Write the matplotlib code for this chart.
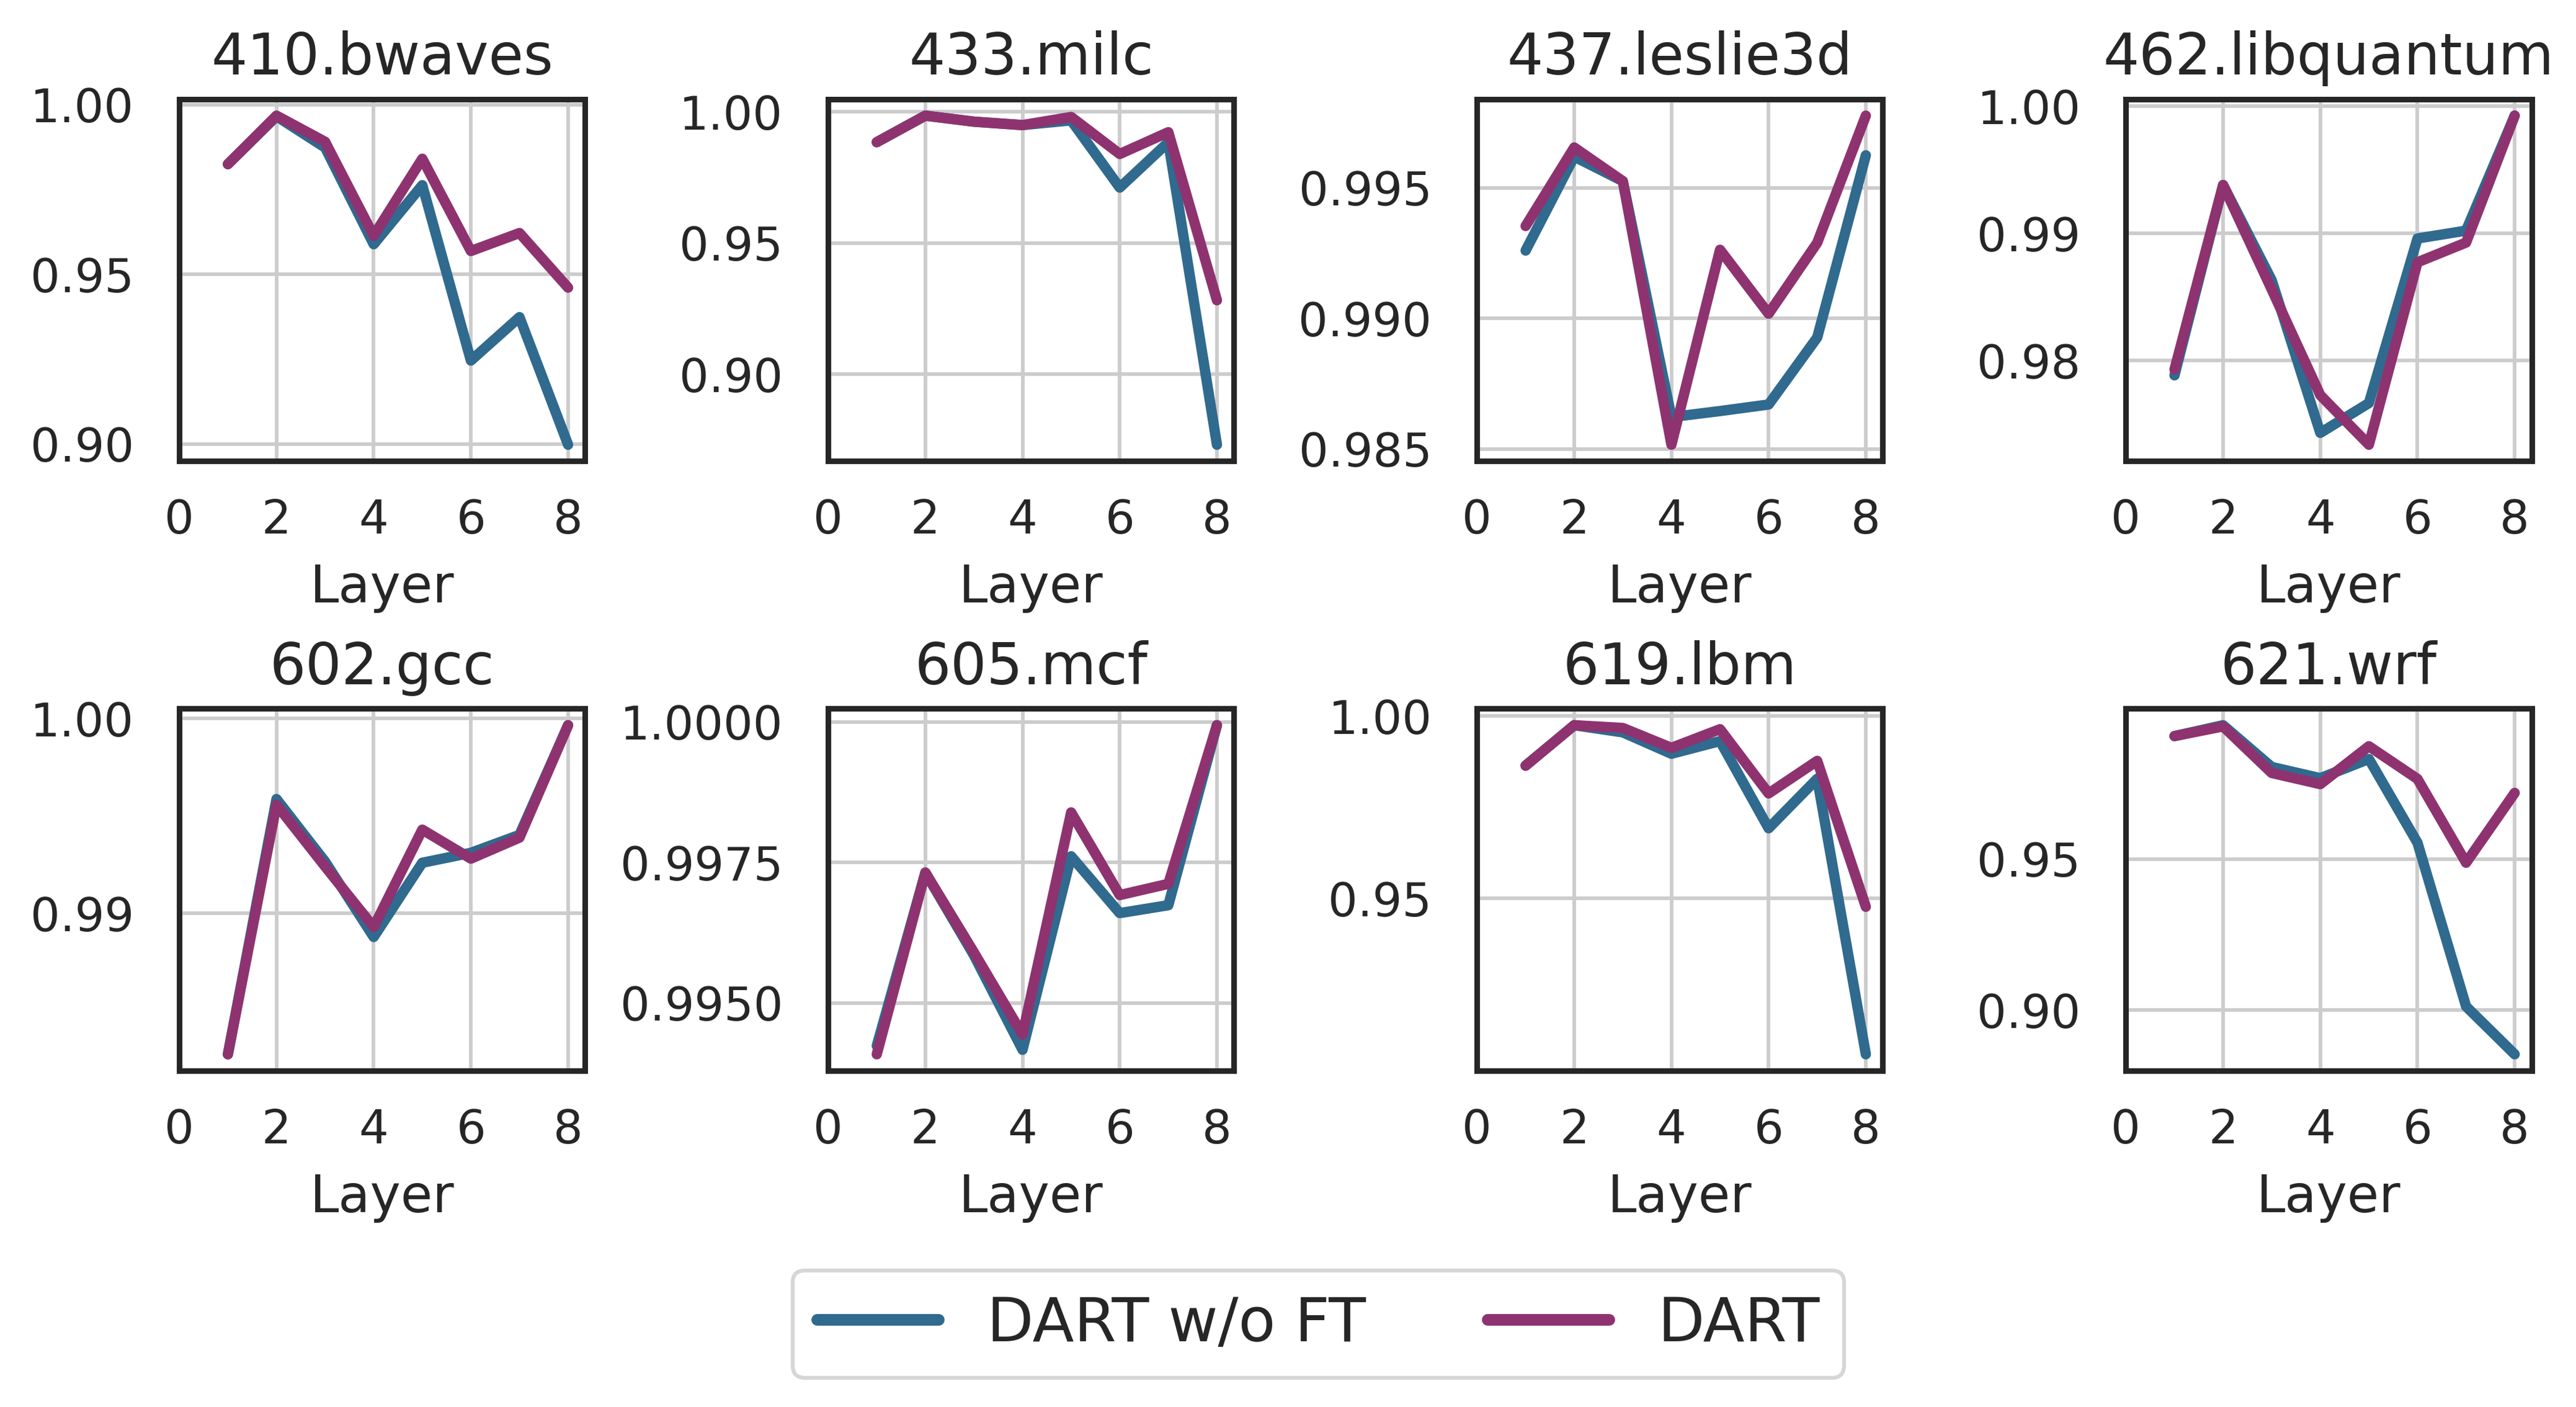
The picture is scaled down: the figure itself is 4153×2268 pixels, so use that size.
import matplotlib
matplotlib.use("Agg")
import matplotlib.pyplot as plt
from matplotlib.lines import Line2D

# per-layer similarity
layers = [1, 2, 3, 4, 5, 6, 7, 8]
benchmarks = ["410.bwaves", "433.milc", "437.leslie3d", "462.libquantum",
              "602.gcc", "605.mcf", "619.lbm", "621.wrf"]

bwaves_noft = [0.9825, 0.9966, 0.9874, 0.9589, 0.9763, 0.9246, 0.9374, 0.8998]
bwaves_dart = [0.9825, 0.9968, 0.9891, 0.9614, 0.9841, 0.9569, 0.9622, 0.9461]
milc_noft = [0.9884, 0.9985, 0.9962, 0.9949, 0.9967, 0.9711, 0.9884, 0.8732]
milc_dart = [0.9884, 0.9985, 0.9962, 0.9949, 0.9980, 0.9839, 0.9922, 0.9282]
leslie_noft = [0.99260, 0.99620, 0.99526, 0.98622, 0.98645, 0.98670, 0.98927, 0.99625]
leslie_dart = [0.99354, 0.99655, 0.99526, 0.98516, 0.99263, 0.99018, 0.99290, 0.99777]
libq_noft = [0.97885, 0.99380, 0.98632, 0.97433, 0.97667, 0.98960, 0.99022, 0.99925]
libq_dart = [0.97931, 0.99380, 0.98560, 0.97729, 0.97340, 0.98773, 0.98928, 0.99925]
gcc_noft = [0.98276, 0.99586, 0.99265, 0.98878, 0.99259, 0.99310, 0.99402, 0.99965]
gcc_dart = [0.98276, 0.99557, 0.99240, 0.98929, 0.99429, 0.99280, 0.99388, 0.99965]
mcf_noft = [0.99424, 0.99732, 0.99585, 0.99417, 0.99761, 0.99660, 0.99674, 0.99994]
mcf_dart = [0.99409, 0.99732, 0.99590, 0.99444, 0.99839, 0.99692, 0.99712, 0.99994]
lbm_noft = [0.98641, 0.99750, 0.99554, 0.98967, 0.99315, 0.96924, 0.98283, 0.90728]
lbm_dart = [0.98641, 0.99750, 0.99674, 0.99130, 0.99641, 0.97880, 0.98772, 0.94772]
wrf_noft = [0.99080, 0.99440, 0.98056, 0.97685, 0.98320, 0.95542, 0.90119, 0.88532]
wrf_dart = [0.99080, 0.99400, 0.97857, 0.97487, 0.98743, 0.97659, 0.94881, 0.97196]

noft_all = [bwaves_noft, milc_noft, leslie_noft, libq_noft, gcc_noft, mcf_noft, lbm_noft, wrf_noft]
dart_all = [bwaves_dart, milc_dart, leslie_dart, libq_dart, gcc_dart, mcf_dart, lbm_dart, wrf_dart]

blue = "#306a8e"
purple = "#8e3370"
dark = "#262626"

plt.rcParams['font.family'] = ['DejaVu Sans']
plt.rcParams['text.color'] = dark
plt.rcParams['axes.labelcolor'] = dark
plt.rcParams['xtick.color'] = dark
plt.rcParams['ytick.color'] = dark

fig, axes = plt.subplots(2, 4, figsize=(4153 / 300, 2268 / 300), dpi=300)
fig.subplots_adjust(left=0.0696, right=0.9828, bottom=0.239, top=0.9295,
                    wspace=0.599, hspace=0.684)

for ax, name, noft, dart in zip(axes.flat, benchmarks, noft_all, dart_all):
    ax.plot(layers, noft, color=blue, lw=4, solid_capstyle='round', solid_joinstyle='round')
    ax.plot(layers, dart, color=purple, lw=4, solid_capstyle='round', solid_joinstyle='round')
    ax.set_xlim(left=0)
    ax.set_xticks([0, 2, 4, 6, 8])
    ax.set_title(name, fontsize=22, pad=9.5)
    ax.set_xlabel("Layer", fontsize=20, labelpad=7.5)
    ax.grid(True, color="#cccccc", lw=1.4)
    ax.set_axisbelow(True)
    ax.tick_params(axis='both', labelsize=18, length=0)
    ax.tick_params(axis='x', pad=14.3)
    ax.tick_params(axis='y', pad=17.5)
    for sp in ax.spines.values():
        sp.set_color(dark)
        sp.set_linewidth(2.15)

handles = [Line2D([], [], color=blue, lw=4.5, solid_capstyle='round'),
           Line2D([], [], color=purple, lw=4.5, solid_capstyle='round')]
leg = fig.legend(handles, ["DART w/o FT", "DART"], loc='center',
                 bbox_to_anchor=(0.5118, 0.059), ncol=2, fontsize=23.5)
leg.get_frame().set_linewidth(1.5)

fig.savefig("out.png", dpi=300)
